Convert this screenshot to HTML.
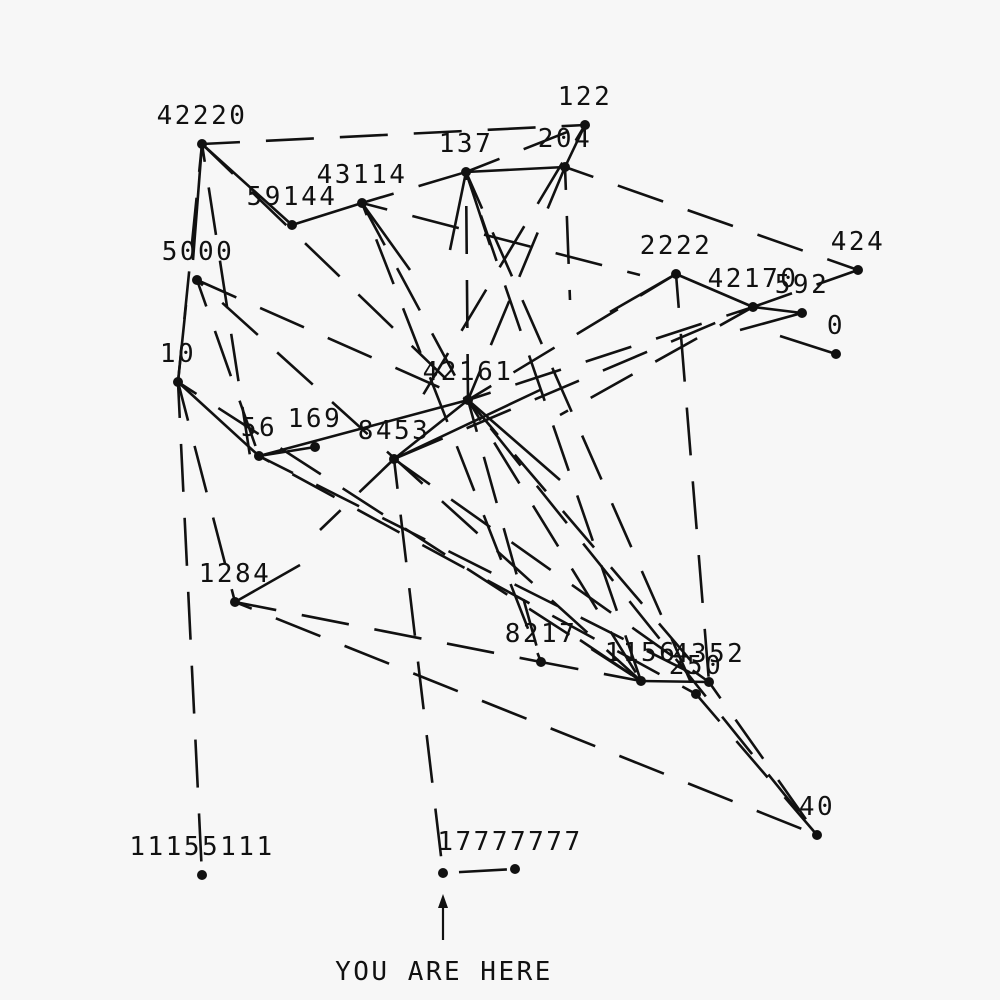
<!DOCTYPE html>
<html><head><meta charset="utf-8"><style>
html,body{margin:0;padding:0;background:#f7f7f7;}
svg{display:block}
text{font-family:"DejaVu Sans Mono","Liberation Mono",monospace;font-size:26px;fill:#111;letter-spacing:2.5px;}
</style></head><body>
<svg width="1000" height="1000" viewBox="0 0 1000 1000">
<g stroke="#111" stroke-width="2.6" fill="none" stroke-dasharray="48 26">
<line x1="202" y1="144" x2="585" y2="125" stroke-dashoffset="10"/>
<line x1="202" y1="144" x2="193" y2="260" stroke-dasharray="none"/>
<line x1="202" y1="144" x2="178" y2="382" stroke-dashoffset="20"/>
<line x1="202" y1="144" x2="468" y2="400" stroke-dashoffset="5"/>
<line x1="202" y1="144" x2="250" y2="456" stroke-dashoffset="30"/>
<line x1="202" y1="144" x2="292" y2="225" stroke-dasharray="none"/>
<line x1="292" y1="225" x2="362" y2="203" stroke-dasharray="none"/>
<line x1="362" y1="203" x2="466" y2="172" stroke-dashoffset="15"/>
<line x1="362" y1="203" x2="468" y2="400" stroke-dashoffset="0"/>
<line x1="362" y1="203" x2="410" y2="270" stroke-dasharray="none"/>
<line x1="362" y1="203" x2="541" y2="662" stroke-dashoffset="35"/>
<line x1="362" y1="203" x2="640" y2="275" stroke-dashoffset="22"/>
<line x1="466" y1="172" x2="565" y2="167" stroke-dasharray="none"/>
<line x1="466" y1="172" x2="585" y2="125" stroke-dashoffset="12"/>
<line x1="565" y1="167" x2="585" y2="125" stroke-dasharray="none"/>
<line x1="466" y1="172" x2="468" y2="400" stroke-dashoffset="40"/>
<line x1="466" y1="172" x2="450" y2="250" stroke-dasharray="none"/>
<line x1="466" y1="172" x2="490" y2="245" stroke-dasharray="none"/>
<line x1="466" y1="172" x2="696" y2="694" stroke-dashoffset="8"/>
<line x1="466" y1="172" x2="641" y2="681" stroke-dashoffset="28"/>
<line x1="565" y1="167" x2="468" y2="400" stroke-dashoffset="3"/>
<line x1="565" y1="167" x2="858" y2="270" stroke-dashoffset="18"/>
<line x1="565" y1="167" x2="570" y2="300" stroke-dashoffset="25"/>
<line x1="585" y1="125" x2="420" y2="400" stroke-dashoffset="30"/>
<line x1="676" y1="274" x2="753" y2="307" stroke-dasharray="none"/>
<line x1="676" y1="274" x2="468" y2="400" stroke-dashoffset="6"/>
<line x1="676" y1="274" x2="709" y2="682" stroke-dashoffset="14"/>
<line x1="676" y1="274" x2="610" y2="312" stroke-dasharray="none"/>
<line x1="858" y1="270" x2="753" y2="307" stroke-dashoffset="4"/>
<line x1="802" y1="313" x2="753" y2="307" stroke-dasharray="none"/>
<line x1="802" y1="313" x2="740" y2="330" stroke-dasharray="none"/>
<line x1="836" y1="354" x2="780" y2="336" stroke-dasharray="none"/>
<line x1="753" y1="307" x2="468" y2="400" stroke-dashoffset="20"/>
<line x1="753" y1="307" x2="394" y2="459" stroke-dashoffset="33"/>
<line x1="753" y1="307" x2="560" y2="415" stroke-dashoffset="10"/>
<line x1="197" y1="280" x2="468" y2="400" stroke-dashoffset="5"/>
<line x1="197" y1="280" x2="259" y2="456" stroke-dashoffset="20"/>
<line x1="197" y1="280" x2="641" y2="681" stroke-dashoffset="40"/>
<line x1="186" y1="305" x2="178" y2="382" stroke-dasharray="none"/>
<line x1="178" y1="382" x2="259" y2="456" stroke-dasharray="none"/>
<line x1="178" y1="382" x2="202" y2="875" stroke-dashoffset="12"/>
<line x1="178" y1="382" x2="641" y2="681" stroke-dashoffset="26"/>
<line x1="178" y1="382" x2="235" y2="602" stroke-dashoffset="8"/>
<line x1="259" y1="456" x2="315" y2="447" stroke-dasharray="none"/>
<line x1="259" y1="456" x2="468" y2="400" stroke-dasharray="none"/>
<line x1="259" y1="456" x2="709" y2="682" stroke-dashoffset="10"/>
<line x1="259" y1="456" x2="696" y2="694" stroke-dashoffset="36"/>
<line x1="394" y1="459" x2="468" y2="400" stroke-dasharray="none"/>
<line x1="394" y1="459" x2="443" y2="873" stroke-dashoffset="18"/>
<line x1="394" y1="459" x2="540" y2="390" stroke-dasharray="none"/>
<line x1="394" y1="459" x2="709" y2="682" stroke-dashoffset="4"/>
<line x1="394" y1="459" x2="320" y2="530" stroke-dashoffset="0"/>
<line x1="235" y1="602" x2="541" y2="662" stroke-dashoffset="6"/>
<line x1="235" y1="602" x2="300" y2="565" stroke-dasharray="none"/>
<line x1="235" y1="602" x2="817" y2="835" stroke-dashoffset="30" />
<line x1="468" y1="400" x2="541" y2="662" stroke-dashoffset="15"/>
<line x1="468" y1="400" x2="641" y2="681" stroke-dashoffset="24"/>
<line x1="468" y1="400" x2="709" y2="682" stroke-dashoffset="2"/>
<line x1="468" y1="400" x2="817" y2="835" stroke-dashoffset="38"/>
<line x1="468" y1="400" x2="560" y2="480" stroke-dasharray="none"/>
<line x1="541" y1="662" x2="641" y2="681" stroke-dashoffset="10"/>
<line x1="580" y1="640" x2="641" y2="681" stroke-dasharray="none"/>
<line x1="641" y1="681" x2="709" y2="682" stroke-dasharray="none"/>
<line x1="696" y1="694" x2="817" y2="835" stroke-dashoffset="12"/>
<line x1="709" y1="682" x2="817" y2="835" stroke-dashoffset="28"/>
<line x1="443" y1="873" x2="515" y2="869" stroke-dashoffset="58"/>
</g>
<g fill="#111">
<circle cx="202" cy="144" r="5"/><circle cx="585" cy="125" r="5"/><circle cx="565" cy="167" r="5"/>
<circle cx="466" cy="172" r="5"/><circle cx="362" cy="203" r="5"/><circle cx="292" cy="225" r="5"/>
<circle cx="197" cy="280" r="5"/><circle cx="676" cy="274" r="5"/><circle cx="858" cy="270" r="5"/>
<circle cx="753" cy="307" r="5"/><circle cx="802" cy="313" r="5"/><circle cx="836" cy="354" r="5"/>
<circle cx="178" cy="382" r="5"/><circle cx="468" cy="400" r="5"/><circle cx="259" cy="456" r="5"/>
<circle cx="315" cy="447" r="5"/><circle cx="394" cy="459" r="5"/><circle cx="235" cy="602" r="5"/>
<circle cx="541" cy="662" r="5"/><circle cx="641" cy="681" r="5"/><circle cx="709" cy="682" r="5"/>
<circle cx="696" cy="694" r="5"/><circle cx="817" cy="835" r="5"/><circle cx="202" cy="875" r="5"/>
<circle cx="443" cy="873" r="5"/><circle cx="515" cy="869" r="5"/>
</g>
<g stroke="#111" stroke-width="2.2"><line x1="443" y1="940" x2="443" y2="903"/></g>
<polygon points="443,894 438,908 448,908" fill="#111"/>
<g text-anchor="middle">
<text x="202" y="124">42220</text>
<text x="585" y="105">122</text>
<text x="565" y="147">204</text>
<text x="466" y="152">137</text>
<text x="362" y="183">43114</text>
<text x="292" y="205">59144</text>
<text x="198" y="260">5000</text>
<text x="676" y="254">2222</text>
<text x="858" y="250">424</text>
<text x="753" y="287">42170</text>
<text x="802" y="293">592</text>
<text x="836" y="334">0</text>
<text x="178" y="362">10</text>
<text x="468" y="380">42161</text>
<text x="259" y="436">56</text>
<text x="315" y="427">169</text>
<text x="394" y="439">8453</text>
<text x="235" y="582">1284</text>
<text x="541" y="642">8217</text>
<text x="641" y="661">1156</text>
<text x="709" y="662">4352</text>
<text x="696" y="674">250</text>
<text x="817" y="815">40</text>
<text x="202" y="855">11155111</text>
<text x="510" y="850">17777777</text>
<text x="444" y="980">YOU ARE HERE</text>
</g>
</svg>
</body></html>
